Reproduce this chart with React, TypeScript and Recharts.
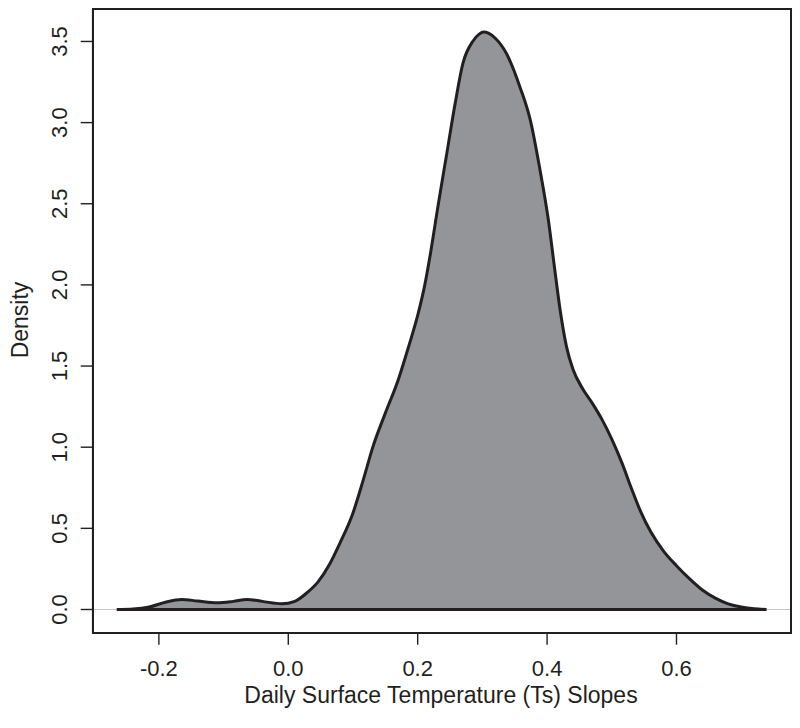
import { Area, ComposedChart, ReferenceLine, XAxis, YAxis } from "recharts";

// slope values (x) and kernel density estimate (y)
const slopes = [
  -0.265, -0.24, -0.215, -0.19, -0.165, -0.14, -0.11, -0.085, -0.064, -0.04, -0.01, 0.01, 0.028,
  0.046, 0.064, 0.08, 0.1, 0.116, 0.131, 0.15, 0.17, 0.186, 0.201, 0.211, 0.22, 0.232, 0.245,
  0.258, 0.27, 0.285, 0.295, 0.302, 0.31, 0.32, 0.338, 0.358, 0.374, 0.389, 0.402, 0.412, 0.42,
  0.43, 0.44, 0.455, 0.47, 0.485, 0.5, 0.516, 0.53, 0.545, 0.56, 0.58, 0.6, 0.62, 0.64, 0.66,
  0.68, 0.7, 0.72, 0.739,
];
const density = [
  0, 0.003, 0.015, 0.045, 0.062, 0.052, 0.041, 0.05, 0.062, 0.05, 0.035, 0.05, 0.1, 0.17, 0.28,
  0.41, 0.595, 0.8, 1.005, 1.21, 1.416, 1.62, 1.827, 2.0, 2.2, 2.5, 2.81, 3.12, 3.366, 3.5, 3.545,
  3.558, 3.55, 3.52, 3.42, 3.22, 3.017, 2.71, 2.4, 2.09, 1.85, 1.62, 1.48, 1.36, 1.27, 1.17, 1.05,
  0.9, 0.75, 0.6, 0.48, 0.36, 0.27, 0.19, 0.12, 0.07, 0.035, 0.015, 0.004, 0,
];
const xTicks = [-0.2, 0, 0.2, 0.4, 0.6];
const yTicks = [0, 0.5, 1, 1.5, 2, 2.5, 3, 3.5];
const xDomain = [-0.3023, 0.777];
const yDomain = [-0.143, 3.7];

const data = slopes.map((x, i) => ({ x, y: density[i] }));

const W = 800;
const H = 728;
const M = { top: 9, right: 9, left: 0, bottom: 0 };
const Y_AXIS_W = 92.7;
const X_AXIS_H = 95.3;

const INK = "#231f20";
const FONT = "'Liberation Sans', Arial, Helvetica, sans-serif";
const frame = { stroke: INK, strokeWidth: 1.6 };

function YTick(props: any) {
  const { x, y, payload } = props;
  return (
    <text
      x={x}
      y={y}
      transform={`rotate(-90 ${x} ${y})`}
      textAnchor="middle"
      fontSize={22}
      fill={INK}
      fontFamily={FONT}
    >
      {Number(payload.value).toFixed(1)}
    </text>
  );
}

function YTitle() {
  return (
    <text
      x={28}
      y={320}
      transform="rotate(-90 28 320)"
      textAnchor="middle"
      fontSize={23}
      fill={INK}
      fontFamily={FONT}
    >
      Density
    </text>
  );
}

function XTitle() {
  return (
    <text x={441} y={703} textAnchor="middle" fontSize={23} fill={INK} fontFamily={FONT}>
      Daily Surface Temperature (Ts) Slopes
    </text>
  );
}

export default function App() {
  // plot region box (R's box()), drawn over the chart
  const boxLeft = M.left + Y_AXIS_W;
  const boxTop = M.top;
  const boxW = W - M.right - boxLeft;
  const boxH = H - M.bottom - X_AXIS_H - boxTop;

  return (
    <div
      style={{
        position: "absolute",
        left: 0,
        top: 0,
        width: W,
        height: H,
        background: "#fff",
        fontFamily: FONT,
      }}
    >
      <ComposedChart width={W} height={H} data={data} margin={M}>
        <XAxis
          dataKey="x"
          type="number"
          domain={xDomain}
          ticks={xTicks}
          tickFormatter={(v: number) => v.toFixed(1)}
          height={X_AXIS_H}
          tickSize={12}
          tickMargin={16}
          axisLine={frame}
          tickLine={{ stroke: INK, strokeWidth: 1.4 }}
          tick={{ fill: INK, fontSize: 22, fontFamily: FONT }}
          allowDataOverflow
          label={<XTitle />}
        />
        <YAxis
          type="number"
          domain={yDomain}
          ticks={yTicks}
          width={Y_AXIS_W}
          tickSize={12}
          tickMargin={14}
          axisLine={frame}
          tickLine={{ stroke: INK, strokeWidth: 1.4 }}
          tick={<YTick />}
          allowDataOverflow
          label={<YTitle />}
        />
        <ReferenceLine y={0} stroke="#c4c4c4" strokeWidth={1} />
        <Area
          type="monotone"
          dataKey="y"
          baseValue={0}
          fill="#939598"
          fillOpacity={1}
          stroke={INK}
          strokeWidth={3}
          dot={false}
          activeDot={false}
          isAnimationActive={false}
        />
        <ReferenceLine
          segment={[
            { x: slopes[0], y: 0 },
            { x: slopes[slopes.length - 1], y: 0 },
          ]}
          stroke={INK}
          strokeWidth={3}
        />
      </ComposedChart>
      <div
        style={{
          position: "absolute",
          left: boxLeft - 1,
          top: boxTop - 1,
          width: boxW + 2,
          height: boxH + 2,
          boxSizing: "border-box",
          border: `2px solid ${INK}`,
          pointerEvents: "none",
        }}
      />
    </div>
  );
}
